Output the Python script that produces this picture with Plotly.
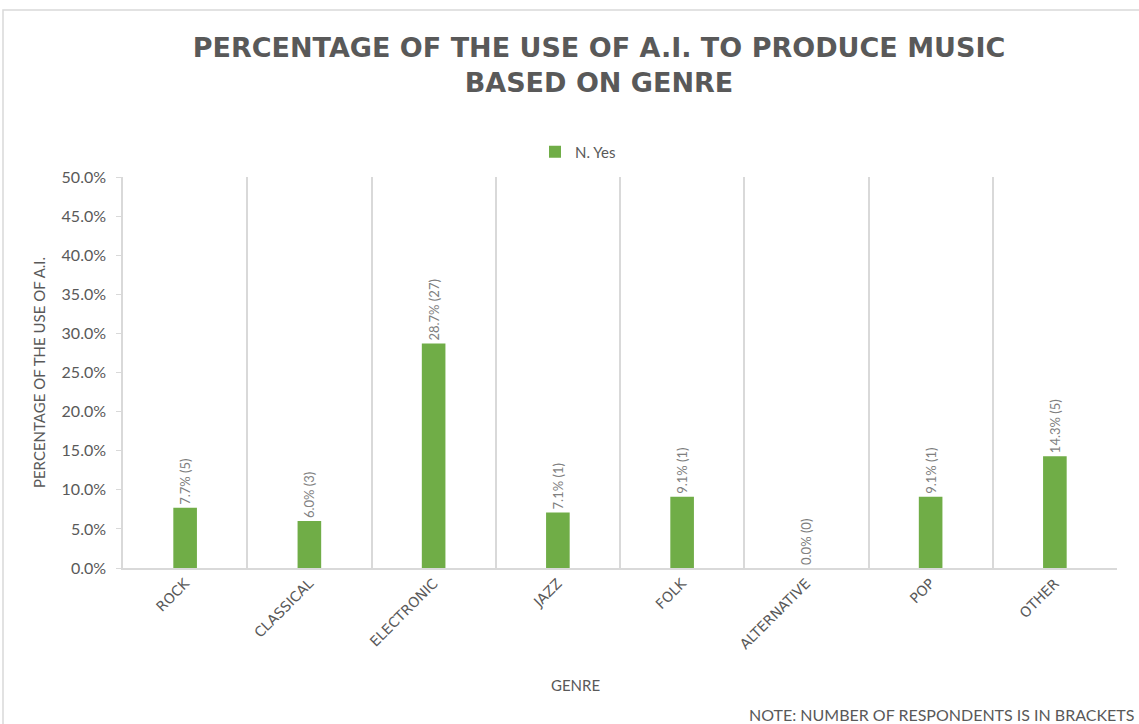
import plotly.graph_objects as go

genres = ["ROCK", "CLASSICAL", "ELECTRONIC", "JAZZ", "FOLK", "ALTERNATIVE", "POP", "OTHER"]
pct_yes = [0.077, 0.060, 0.287, 0.071, 0.091, 0.000, 0.091, 0.143]
respondents = [5, 3, 27, 1, 1, 0, 1, 5]
y_ticks = [0, 0.05, 0.10, 0.15, 0.20, 0.25, 0.30, 0.35, 0.40, 0.45, 0.50]

labels = [f"{v*100:.1f}% ({n})" for v, n in zip(pct_yes, respondents)]

W, H = 1139, 724
L, R, T, B = 123, 22, 177, 156
pw, ph = W - L - R, H - T - B

def px(x):
    return (x - L) / pw

def py(y):
    return (H - B - y) / ph

GRID = "#d9d9d9"
TXT = "#595959"
FONT = "Lato"

fig = go.Figure()
fig.add_trace(go.Bar(
    x=genres, y=pct_yes, name="N. Yes",
    marker=dict(color="#70AD47", line=dict(width=0)),
    width=0.19,
    text=labels, textposition="outside", textangle=-90, constraintext="none",
    textfont=dict(family=FONT, size=13, color="#7f7f7f"),
    cliponaxis=False,
))

fig.update_layout(
    width=W, height=H,
    margin=dict(l=L, r=R, t=T, b=B),
    paper_bgcolor="white", plot_bgcolor="white",
    font=dict(family=FONT, color=TXT),
    title=dict(
        text="PERCENTAGE OF THE USE OF A.I. TO PRODUCE MUSIC<br>BASED ON GENRE",
        x=px(599), xanchor="center", xref="paper", y=1 - 57 / H, yanchor="middle",
        font=dict(family="DejaVu Sans", size=27, color=TXT, weight="bold"),
    ),
    showlegend=True,
    legend=dict(orientation="h", x=px(578), xanchor="center", y=py(152), yanchor="middle",
                font=dict(family=FONT, size=15, color=TXT), itemwidth=30),
    xaxis=dict(
        type="category", tickson="boundaries", showgrid=True, gridcolor=GRID, gridwidth=1.5,
        showline=True, linecolor=GRID, linewidth=1.5, ticks="", tickangle=-45,
        tickfont=dict(family="DejaVu Sans", size=14, color=TXT),
    ),
    yaxis=dict(
        range=[0, 0.5], tickvals=y_ticks, tickformat=".1%", showgrid=False,
        showline=True, linecolor=GRID, linewidth=1.5, ticks="outside", ticklen=5,
        tickcolor=GRID, tickfont=dict(family=FONT, size=16, color=TXT),
        ticklabelstandoff=7,
        title=dict(text="PERCENTAGE OF THE USE OF A.I.", standoff=12,
                   font=dict(family=FONT, size=15, color=TXT)),
        zeroline=False,
    ),
)

fig.add_annotation(text="GENRE", x=px(575), y=py(685), xref="paper", yref="paper",
                   showarrow=False, xanchor="center", yanchor="middle",
                   font=dict(family=FONT, size=15, color=TXT))
fig.add_annotation(text="NOTE: NUMBER OF RESPONDENTS IS IN BRACKETS", x=px(1136), y=py(714),
                   xref="paper", yref="paper", showarrow=False, xanchor="right", yanchor="middle",
                   font=dict(family=FONT, size=16, color=TXT))
fig.add_shape(type="rect", xref="paper", yref="paper", x0=px(3), x1=px(1150), y0=py(740), y1=py(10),
              line=dict(color="#d9d9d9", width=1.5), layer="below")

fig.write_html("out.html")
